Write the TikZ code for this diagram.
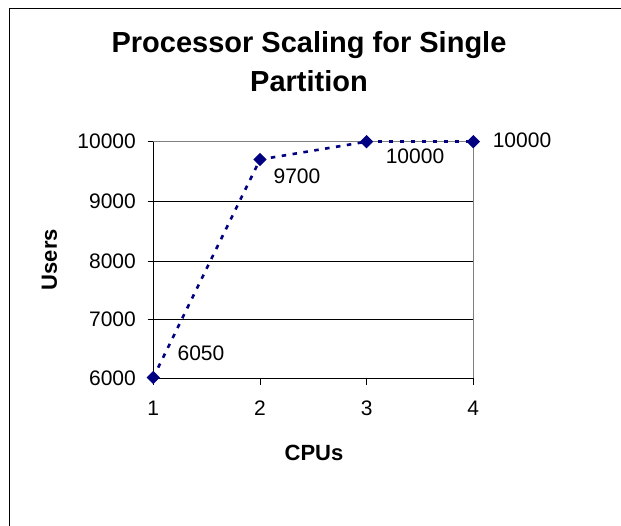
\documentclass[tikz,border=0pt]{standalone}
\usepackage{fontspec}
\setmainfont{Liberation Sans}
\usetikzlibrary{shapes.geometric}
\pgfdeclarelayer{edgelayer}
\pgfdeclarelayer{nodelayer}
\pgfsetlayers{main,edgelayer,nodelayer}
\definecolor{navy}{RGB}{0,0,128}
\definecolor{areagray}{RGB}{128,128,128}
\tikzset{font=\fontsize{21}{25}\selectfont}
\tikzstyle{none}=[inner sep=0pt]
\tikzstyle{dot}=[diamond,fill=navy,inner sep=0pt,minimum width=13.5pt,minimum height=13.5pt]
\tikzstyle{axtitle}=[inner sep=0pt,font=\fontsize{22}{26}\selectfont\bfseries]
\tikzstyle{series}=[navy,line width=2.6pt,dash pattern=on 4.5pt off 6.5pt]

\begin{document}
\begin{tikzpicture}[x=1pt,y=-1pt]
	\useasboundingbox (0,0) rectangle (621,525);
	% chart frame
	\draw[line width=1pt] (9,540) -- (9,8.5) -- (640,8.5);
	\node [style=none, align=center, font=\fontsize{29}{39}\selectfont\bfseries] (title) at (309,62) {Processor Scaling for Single\\Partition};
	% plot area
	\foreach \y in {201.3,261,319.3}
		\draw[line width=0.9pt] (153.3,\y) -- (473.3,\y);
	\draw[areagray, line width=1.5pt] (153.3,141.7) -- (473.3,141.7) -- (473.3,378.3);
	\draw[line width=1.2pt] (153.3,141.7) -- (153.3,378.3) -- (473.3,378.3);
	\foreach \y/\v in {141.7/10000,201.3/9000,261/8000,319.3/7000,378.3/6000} {
		\draw[line width=1pt] (147.5,\y) -- (153.3,\y);
		\node [style=none, anchor=east] (y\v) at (136,\y) {\v};
	}
	\foreach \x/\c in {153.3/1,260/2,366.6/3,473.3/4} {
		\draw[line width=1pt] (\x,378.3) -- (\x,385);
		\node [style=none] (x\c) at (\x,408.3) {\c};
	}
	\node [style=axtitle] (cpus) at (314,452.7) {CPUs};
	\node [style=axtitle, rotate=90] (users) at (49.5,259.7) {Users};
	\begin{pgfonlayer}{nodelayer}
		\node [style=dot] (1) at (153.3,377.5) {};
		\node [style=dot] (2) at (260,159.5) {};
		\node [style=dot] (3) at (366.6,141.7) {};
		\node [style=dot] (4) at (473.3,141.7) {};
		\node [style=none] (5) at (201,353.3) {6050};
		\node [style=none] (6) at (297,176.7) {9700};
		\node [style=none] (7) at (415,156.7) {10000};
		\node [style=none] (8) at (522,140) {10000};
	\end{pgfonlayer}
	\begin{pgfonlayer}{edgelayer}
		\draw[style=series] (1.center) to (2.center);
		\draw[style=series] (2.center) to (3.center);
		\draw[style=series] (3.center) to (4.center);
	\end{pgfonlayer}
\end{tikzpicture}
\end{document}
